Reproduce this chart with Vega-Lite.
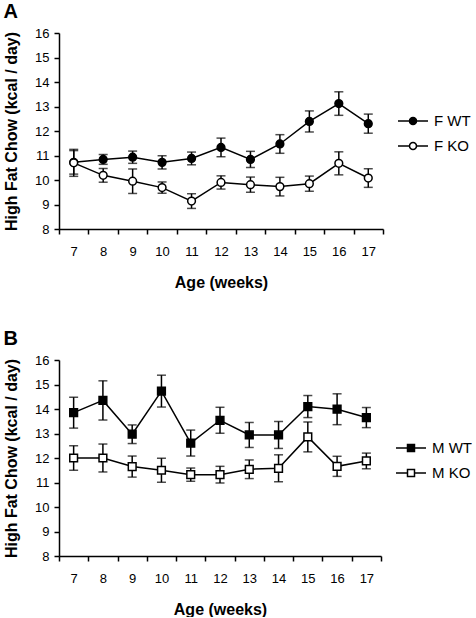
{
  "$schema": "https://vega.github.io/schema/vega-lite/v6.json",
  "padding": {"left": 3, "top": 2, "right": 0, "bottom": 0},
  "background": "white",
  "datasets": {
    "female": [
      {"week": 7, "group": "F WT", "mean": 10.72, "sem": 0.48},
      {"week": 8, "group": "F WT", "mean": 10.84, "sem": 0.2},
      {"week": 9, "group": "F WT", "mean": 10.93, "sem": 0.25},
      {"week": 10, "group": "F WT", "mean": 10.72, "sem": 0.27},
      {"week": 11, "group": "F WT", "mean": 10.88, "sem": 0.26},
      {"week": 12, "group": "F WT", "mean": 11.33, "sem": 0.38},
      {"week": 13, "group": "F WT", "mean": 10.84, "sem": 0.33},
      {"week": 14, "group": "F WT", "mean": 11.47, "sem": 0.38},
      {"week": 15, "group": "F WT", "mean": 12.39, "sem": 0.43},
      {"week": 16, "group": "F WT", "mean": 13.12, "sem": 0.48},
      {"week": 17, "group": "F WT", "mean": 12.3, "sem": 0.39},
      {"week": 7, "group": "F KO", "mean": 10.7, "sem": 0.55},
      {"week": 8, "group": "F KO", "mean": 10.19, "sem": 0.28},
      {"week": 9, "group": "F KO", "mean": 9.95, "sem": 0.5},
      {"week": 10, "group": "F KO", "mean": 9.69, "sem": 0.23},
      {"week": 11, "group": "F KO", "mean": 9.14, "sem": 0.3},
      {"week": 12, "group": "F KO", "mean": 9.9, "sem": 0.27},
      {"week": 13, "group": "F KO", "mean": 9.81, "sem": 0.31},
      {"week": 14, "group": "F KO", "mean": 9.73, "sem": 0.38},
      {"week": 15, "group": "F KO", "mean": 9.85, "sem": 0.31},
      {"week": 16, "group": "F KO", "mean": 10.68, "sem": 0.47},
      {"week": 17, "group": "F KO", "mean": 10.08, "sem": 0.38}
    ],
    "male": [
      {"week": 7, "group": "M WT", "mean": 13.85, "sem": 0.63},
      {"week": 8, "group": "M WT", "mean": 14.35, "sem": 0.8},
      {"week": 9, "group": "M WT", "mean": 12.97, "sem": 0.38},
      {"week": 10, "group": "M WT", "mean": 14.73, "sem": 0.65},
      {"week": 11, "group": "M WT", "mean": 12.61, "sem": 0.53},
      {"week": 12, "group": "M WT", "mean": 13.54, "sem": 0.53},
      {"week": 13, "group": "M WT", "mean": 12.94, "sem": 0.51},
      {"week": 14, "group": "M WT", "mean": 12.94, "sem": 0.55},
      {"week": 15, "group": "M WT", "mean": 14.1, "sem": 0.45},
      {"week": 16, "group": "M WT", "mean": 13.99, "sem": 0.63},
      {"week": 17, "group": "M WT", "mean": 13.65, "sem": 0.41},
      {"week": 7, "group": "M KO", "mean": 12.0, "sem": 0.5},
      {"week": 8, "group": "M KO", "mean": 12.0, "sem": 0.57},
      {"week": 9, "group": "M KO", "mean": 11.65, "sem": 0.43},
      {"week": 10, "group": "M KO", "mean": 11.5, "sem": 0.49},
      {"week": 11, "group": "M KO", "mean": 11.32, "sem": 0.27},
      {"week": 12, "group": "M KO", "mean": 11.32, "sem": 0.34},
      {"week": 13, "group": "M KO", "mean": 11.54, "sem": 0.38},
      {"week": 14, "group": "M KO", "mean": 11.58, "sem": 0.55},
      {"week": 15, "group": "M KO", "mean": 12.86, "sem": 0.61},
      {"week": 16, "group": "M KO", "mean": 11.66, "sem": 0.41},
      {"week": 17, "group": "M KO", "mean": 11.88, "sem": 0.32}
    ]
  },
  "config": {
    "font": "Liberation Sans",
    "view": {"stroke": null},
    "axis": {
      "domainColor": "black", "tickColor": "black", "labelColor": "black", "titleColor": "black",
      "domainWidth": 1.5, "tickWidth": 1.5, "tickSize": 5, "grid": false,
      "labelFontSize": 13, "titleFontSize": 16, "titleFontWeight": "bold", "labelFont": "Liberation Sans", "titleFont": "Liberation Sans"
    },
    "axisX": {"labelAngle": 0, "labelPadding": 11, "titlePadding": 16, "tickBand": "extent"},
    "axisY": {"labelPadding": 5, "titlePadding": 15},
    "legend": {
      "labelFontSize": 15, "labelFont": "Liberation Sans", "labelColor": "black",
      "symbolSize": 900, "symbolStrokeColor": "black", "symbolStrokeWidth": 1.5,
      "labelOffset": 5, "rowPadding": 1
    },
    "title": {"anchor": "start", "fontSize": 20, "fontWeight": "bold", "color": "black", "font": "Liberation Sans", "offset": 5}
  },
  "spacing": 39,
  "resolve": {"scale": {"fill": "independent"}, "legend": {"fill": "independent"}},
  "vconcat": [
    {
      "title": {"text": "A"},
      "width": 324, "height": 196,
      "data": {"name": "female"},
      "encoding": {
        "x": {"field": "week", "type": "ordinal", "title": "Age (weeks)", "scale": {"type": "band", "paddingInner": 0, "paddingOuter": 0}},
        "y": {"field": "mean", "type": "quantitative", "title": "High Fat Chow (kcal / day)", "scale": {"domain": [8, 16], "nice": false, "zero": false}, "axis": {"values": [8, 9, 10, 11, 12, 13, 14, 15, 16]}}
      },
      "layer": [
        {"mark": {"type": "errorbar", "ticks": {"size": 9}, "thickness": 1.5, "color": "black"}, "encoding": {"yError": {"field": "sem"}, "detail": {"field": "group"}}},
        {"mark": {"type": "line", "color": "black", "strokeWidth": 1.5}, "encoding": {"detail": {"field": "group"}}},
        {"mark": {"type": "point", "shape": "circle", "filled": true, "stroke": "black", "strokeWidth": 1.5, "size": 60, "opacity": 1},
         "encoding": {"fill": {"field": "group", "type": "nominal", "scale": {"domain": ["F WT", "F KO"], "range": ["black", "white"]},
           "legend": {"title": null, "orient": "none", "legendX": 338, "legendY": 72,
             "symbolType": "M -1 0 L -0.233 0 M 0.233 0 L 1 0 M 0.233 0 A 0.233 0.233 0 1 1 -0.233 0 A 0.233 0.233 0 1 1 0.233 0 Z"}}}}
      ]
    },
    {
      "title": {"text": "B"},
      "width": 322, "height": 196,
      "data": {"name": "male"},
      "encoding": {
        "x": {"field": "week", "type": "ordinal", "title": "Age (weeks)", "scale": {"type": "band", "paddingInner": 0, "paddingOuter": 0}},
        "y": {"field": "mean", "type": "quantitative", "title": "High Fat Chow (kcal / day)", "scale": {"domain": [8, 16], "nice": false, "zero": false}, "axis": {"values": [8, 9, 10, 11, 12, 13, 14, 15, 16]}}
      },
      "layer": [
        {"mark": {"type": "errorbar", "ticks": {"size": 9}, "thickness": 1.5, "color": "black"}, "encoding": {"yError": {"field": "sem"}, "detail": {"field": "group"}}},
        {"mark": {"type": "line", "color": "black", "strokeWidth": 1.5}, "encoding": {"detail": {"field": "group"}}},
        {"mark": {"type": "point", "shape": "square", "filled": true, "stroke": "black", "strokeWidth": 1.5, "size": 60, "opacity": 1},
         "encoding": {"fill": {"field": "group", "type": "nominal", "scale": {"domain": ["M WT", "M KO"], "range": ["black", "white"]},
           "legend": {"title": null, "orient": "none", "legendX": 336, "legendY": 72,
             "symbolType": "M -1 0 L -0.233 0 M 0.233 0 L 1 0 M -0.233 -0.233 L 0.233 -0.233 L 0.233 0.233 L -0.233 0.233 Z"}}}}
      ]
    }
  ]
}
